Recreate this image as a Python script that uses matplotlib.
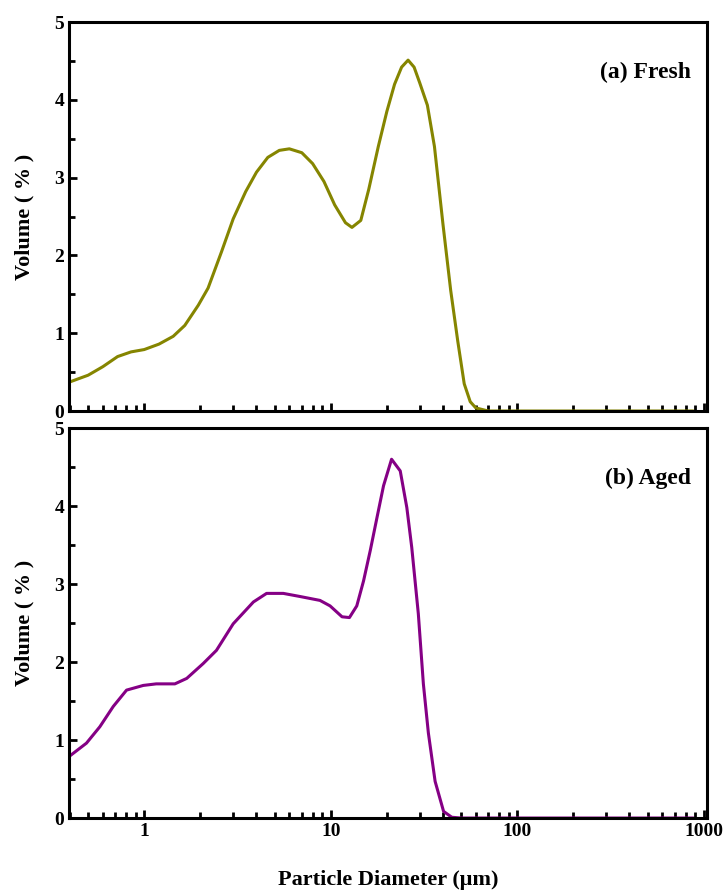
import matplotlib
matplotlib.use("Agg")
import matplotlib.pyplot as plt
from matplotlib.ticker import LogLocator, FixedLocator, NullFormatter, MultipleLocator

# particle size distributions
fresh_d = [0.395, 0.45, 0.5, 0.6, 0.72, 0.85, 1.0, 1.2, 1.43, 1.65, 1.95, 2.2, 2.6, 3.0,
           3.5, 4.0, 4.6, 5.3, 6.0, 7.0, 8.0, 9.2, 10.5, 12, 13, 14.5, 16, 18, 20, 22,
           24, 26, 28, 30, 33, 36, 40, 44, 48, 52, 56, 60, 70, 100, 200, 500, 870]
fresh_v = [0.37, 0.42, 0.46, 0.57, 0.70, 0.76, 0.79, 0.86, 0.96, 1.10, 1.36, 1.58, 2.05, 2.47,
           2.82, 3.07, 3.26, 3.35, 3.37, 3.32, 3.18, 2.95, 2.65, 2.42, 2.36, 2.45, 2.85, 3.40, 3.85, 4.20,
           4.42, 4.51, 4.42, 4.22, 3.93, 3.40, 2.40, 1.55, 0.90, 0.35, 0.12, 0.04, 0.0, 0.0, 0.0, 0.0, 0.0]

aged_d = [0.396, 0.49, 0.578, 0.682, 0.804, 0.988, 1.16, 1.46, 1.69, 2.07, 2.44, 3.0, 3.85,
          4.53, 5.57, 6.85, 8.76, 9.92, 11.5, 12.6, 13.8, 15.0, 16.3, 17.7, 19.2, 21.2, 23.6,
          25.6, 27.2, 29.5, 31.4, 33.4, 36.3, 40.3, 44.6, 50, 100, 200, 500, 870]
aged_v = [0.79, 0.96, 1.17, 1.43, 1.64, 1.70, 1.72, 1.72, 1.79, 1.98, 2.15, 2.49, 2.77,
          2.88, 2.88, 2.84, 2.79, 2.72, 2.58, 2.57, 2.72, 3.04, 3.43, 3.85, 4.26, 4.60, 4.45,
          3.98, 3.47, 2.62, 1.72, 1.09, 0.47, 0.085, 0.01, 0.0, 0.0, 0.0, 0.0, 0.0]

plt.rcParams['font.family'] = ['Liberation Serif', 'DejaVu Serif']
plt.rcParams['font.weight'] = 'bold'

fig = plt.figure(figsize=(7.24, 8.91), dpi=100)
ax1 = fig.add_axes([0.0953, 0.5387, 0.881, 0.4366])
ax2 = fig.add_axes([0.0953, 0.0819, 0.881, 0.4377])

panels = [(ax1, fresh_d, fresh_v, '#858500', '(a) Fresh'),
          (ax2, aged_d, aged_v, '#850085', '(b) Aged')]

for ax, d, v, col, lab in panels:
    ax.plot(d, v, color=col, lw=2.2)
    ax.set_xscale('log')
    ax.set_xlim(0.395, 1040)
    ax.set_ylim(0, 5)
    ax.yaxis.set_major_locator(MultipleLocator(1))
    ax.yaxis.set_minor_locator(MultipleLocator(0.5))
    ax.xaxis.set_major_locator(FixedLocator([1, 10, 100, 1000]))
    ax.xaxis.set_minor_locator(LogLocator(base=10, subs=range(2, 10)))
    ax.xaxis.set_minor_formatter(NullFormatter())
    for s in ax.spines.values():
        s.set_linewidth(2.2)
    ax.tick_params(which='both', direction='in', top=False, right=False, width=2)
    ax.tick_params(which='major', length=6, labelsize=14)
    ax.tick_params(which='minor', length=4)
    ax.set_ylabel('Volume ( % )', fontsize=16, fontweight='bold', labelpad=14)
    ax.text(0.975, 0.87, lab, transform=ax.transAxes, ha='right', va='center',
            fontsize=17, fontweight='bold')

ax1.tick_params(axis='x', labelbottom=False)
ax2.set_xticklabels(['1', '10', '100', '1000'])
ax2.set_xlabel('Particle Diameter (\u03bcm)', fontsize=16, fontweight='bold', labelpad=22)

fig.savefig('out.png', dpi=100)
